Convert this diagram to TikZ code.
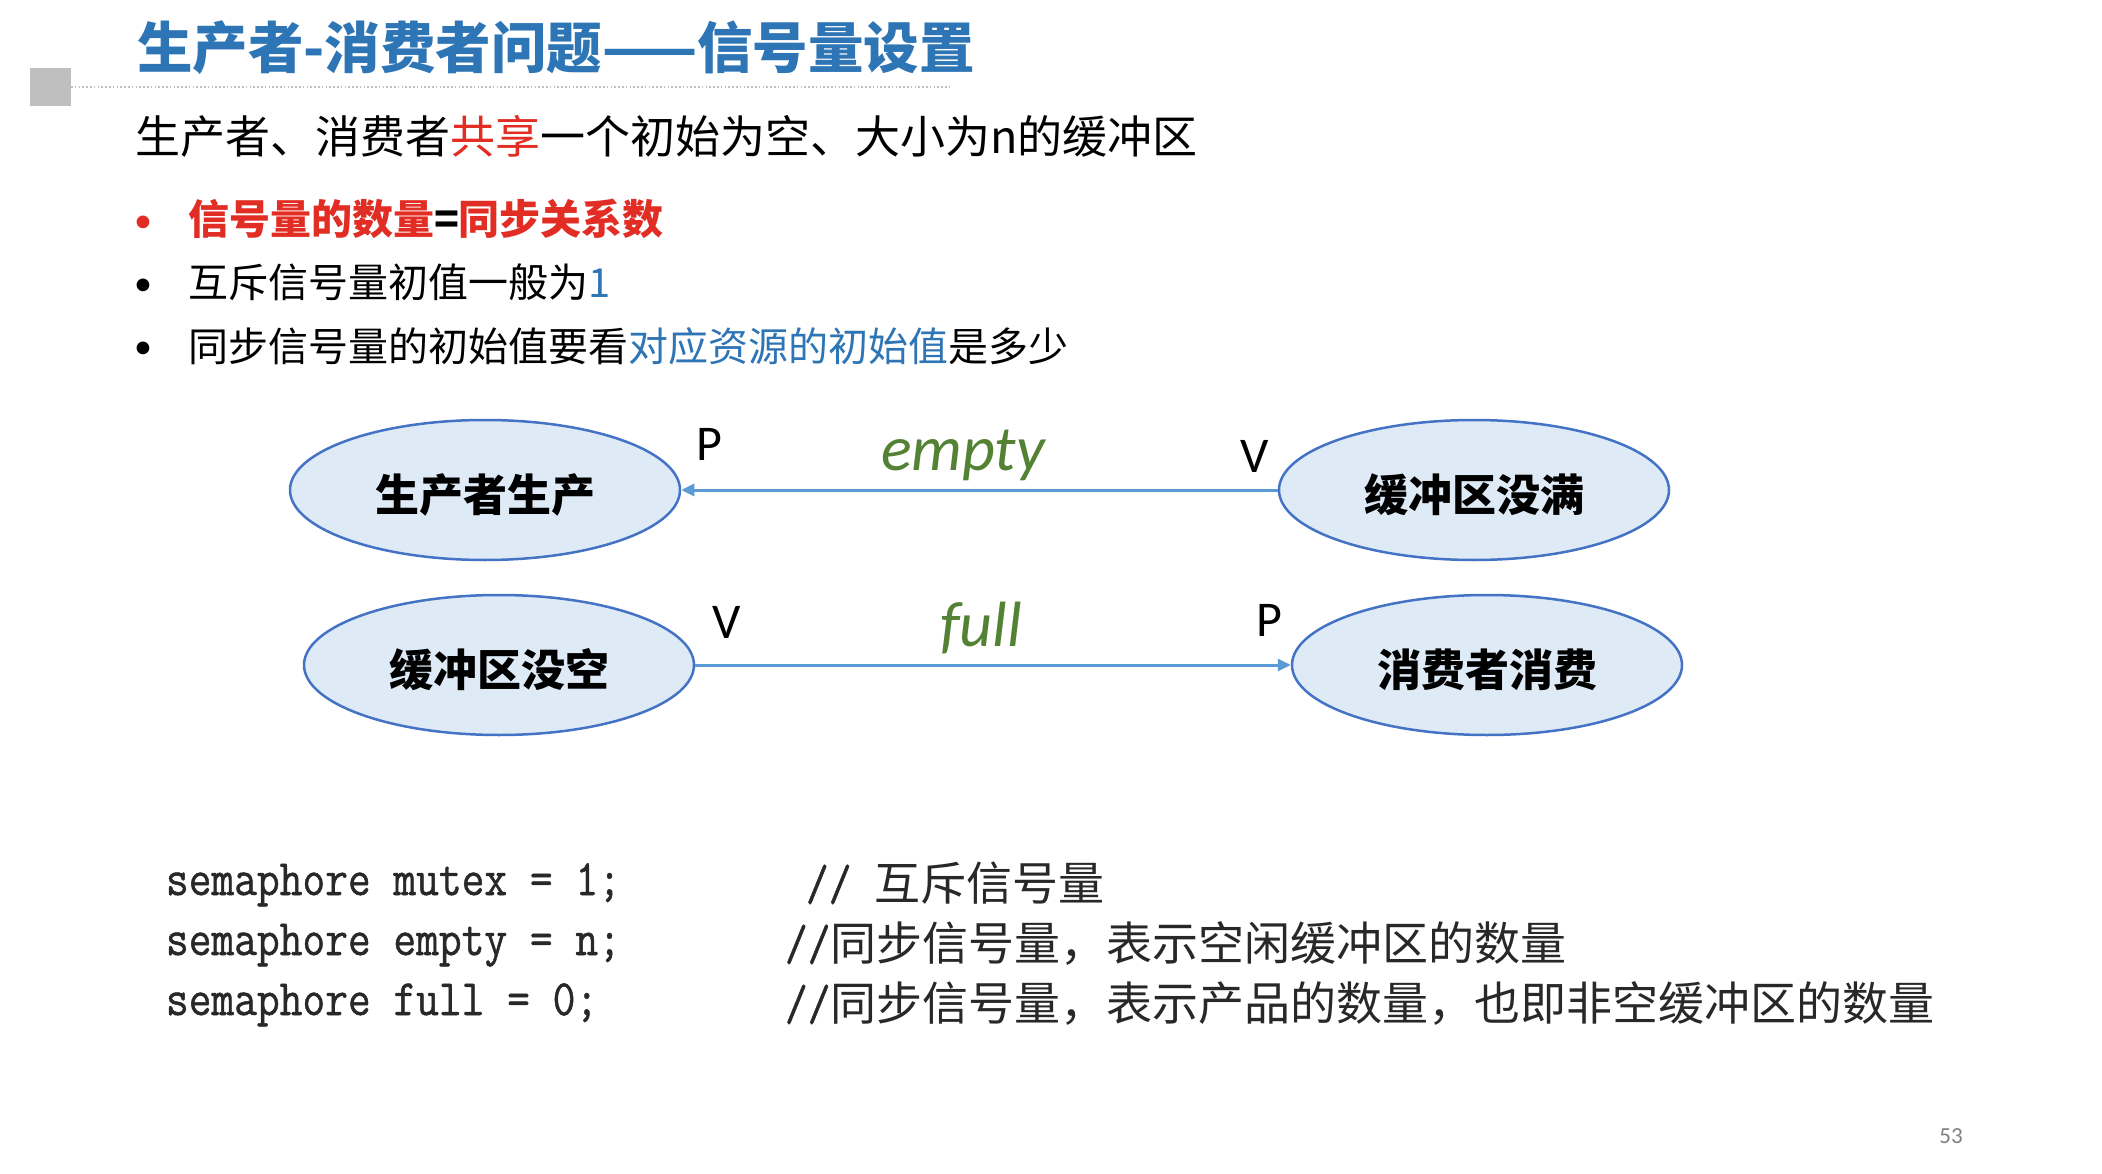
\documentclass[tikz,border=0pt]{standalone}
\usepackage{fontspec}
\usepackage{graphicx}
\usetikzlibrary{shapes.geometric,arrows.meta}
\newfontfamily\cjk{Noto Sans CJK SC}
\newfontfamily\calfont{Carlito}
\newfontfamily\codefont{Latin Modern Mono}[FakeBold=1]
\newcommand\setfs[1]{\fontsize{#1pt}{#1pt}\selectfont}
\definecolor{titleblue}{RGB}{46,117,182}
\definecolor{txtred}{RGB}{226,45,36}
\definecolor{ellfill}{RGB}{222,235,247}
\definecolor{elldraw}{RGB}{68,114,196}
\definecolor{arrowblue}{RGB}{91,155,213}
\definecolor{labgreen}{RGB}{84,130,53}
\definecolor{sqgray}{RGB}{191,191,191}
\definecolor{codecol}{RGB}{40,40,40}
\definecolor{pagegray}{RGB}{127,127,127}
\tikzset{
  txt/.style={inner sep=0pt, outer sep=0pt, anchor=base west},
  ell/.style={ellipse, draw=elldraw, line width=2.5pt, fill=ellfill,
    minimum width=390pt, minimum height=140pt, inner sep=0pt,
    text height=46pt, text depth=2.6pt,
    font=\cjk\bfseries\setfs{44}},
  conn/.style={draw=arrowblue, line width=3pt, -{Triangle[length=13pt,width=12pt]}},
  pv/.style={inner sep=0pt, anchor=base, font=\calfont\setfs{50}},
  sem/.style={inner sep=0pt, anchor=base, font=\calfont\itshape\setfs{64}, text=labgreen},
  code/.style={txt, text=codecol, font=\codefont\setfs{51}},
  cmt/.style={txt, text=codecol, font=\setfs{46}},
  dot/.style={inner sep=0pt, anchor=base, font=\calfont\setfs{36}},
}
\newcommand\cd[1]{\scalebox{0.866}[1]{\codefont\setfs{51}#1}}
\begin{document}
\begin{tikzpicture}[x=1pt,y=-1pt]
\useasboundingbox (0,0) rectangle (2102,1174);
\fill[white] (0,0) rectangle (2102,1174);
% header
\fill[sqgray] (30,68) rectangle (71,106);
\draw[sqgray, line width=1.6pt, dash pattern=on 1.6pt off 2.2pt] (71,87) -- (950,87);
\node[txt, text=titleblue, font=\cjk\bfseries\setfs{55.5}] (title) at (137,69) {生产者-消费者问题——信号量设置};
\node[txt, font=\cjk\setfs{45}] (intro) at (135,154) {生产者、消费者\textcolor{txtred}{共享}一个初始为空、大小为n的缓冲区};
% bullets
\node[dot, text=txtred] (b1dot) at (143,233) {•};
\node[dot] (b2dot) at (143,296) {•};
\node[dot] (b3dot) at (143,359) {•};
\node[txt, font=\cjk\bfseries\setfs{41}] (b1) at (188,235) {\textcolor{txtred}{信号量的数量}=\textcolor{txtred}{同步关系数}};
\node[txt, font=\cjk\setfs{40}] (b2) at (188,298) {互斥信号量初值一般为\textcolor{titleblue}{1}};
\node[txt, font=\cjk\setfs{40}] (b3) at (188,361) {同步信号量的初始值要看\textcolor{titleblue}{对应资源的初始值}是多少};
% ellipses
\node[ell] (prod) at (485,490) {生产者生产};
\node[ell] (notfull) at (1474,490) {缓冲区没满};
\node[ell] (notempty) at (499,665) {缓冲区没空};
\node[ell] (cons) at (1487,665) {消费者消费};
\draw[conn] (notfull.west) -- (prod.east);
\draw[conn] (notempty.east) -- (cons.west);
\node[pv] (p1) at (709,460) {P};
\node[pv] (v1) at (1255,472) {V};
\node[sem] (lempty) at (963,470) {empty};
\node[pv] (v2) at (727,638) {V};
\node[sem] (lfull) at (981,646) {full};
\node[pv] (p2) at (1269,636) {P};
% code
\node[code] (c1) at (166,895) {\cd{semaphore mutex = 1;}};
\node[code] (c2) at (166,955) {\cd{semaphore empty = n;}};
\node[code] (c3) at (166,1015) {\cd{semaphore full = 0;}};
\node[cmt] (m1) at (806,900) {\cd{// }\cjk 互斥信号量};
\node[cmt] (m2) at (785,960) {\cd{//}\cjk 同步信号量，表示空闲缓冲区的数量};
\node[cmt] (m3) at (785,1020) {\cd{//}\cjk 同步信号量，表示产品的数量，也即非空缓冲区的数量};
\node[inner sep=0pt, anchor=base, text=pagegray, font=\calfont\setfs{23}] (page) at (1951,1143) {53};
\end{tikzpicture}
\end{document}
